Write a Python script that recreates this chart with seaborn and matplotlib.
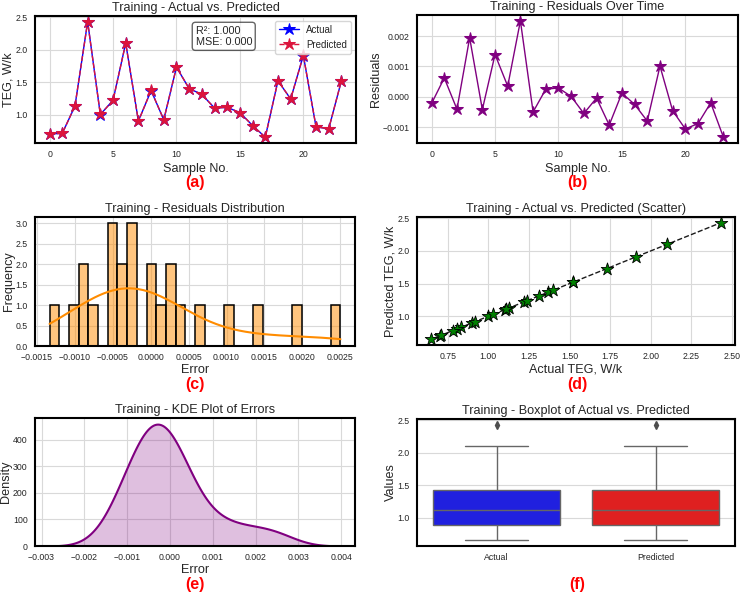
import numpy as np
import pandas as pd
import matplotlib
matplotlib.use("Agg")
import matplotlib.pyplot as plt
import seaborn as sns

# ---------------- data ----------------
sample_no = list(range(24))
actual = [0.70, 0.71, 1.13, 2.43, 1.00, 1.22, 2.10, 0.90, 1.37, 0.92, 1.73, 1.40,
          1.31, 1.10, 1.11, 1.03, 0.83, 0.65, 1.52, 1.24, 1.91, 0.81, 0.78, 1.52]
predicted = [0.70022, 0.70938, 1.13041, 2.42806, 1.00042, 1.21861, 2.09965, 0.89750,
             1.37050, 0.91975, 1.72971, 1.39999, 1.31055, 1.10004, 1.11093, 1.02988,
             0.83025, 0.65080, 1.51899, 1.24046, 1.91106, 0.81088, 0.78020, 1.52133]
box_labels = ["Actual", "Predicted"]
panel_tags = ["(a)", "(b)", "(c)", "(d)", "(e)", "(f)"]

act = np.array(actual)
pred = np.array(predicted)
residuals = np.round(act - pred, 8)
mse = np.mean((act - pred) ** 2)
r2 = 1 - np.sum((act - pred) ** 2) / np.sum((act - act.mean()) ** 2)

# ---------------- style ----------------
sns.set_theme(style="whitegrid")
plt.rcParams["font.family"] = ["Liberation Sans", "DejaVu Sans"]
plt.rcParams.update({
    "axes.edgecolor": "black",
    "axes.linewidth": 1.5,
    "grid.color": "0.85",
    "grid.linewidth": 0.8,
    "xtick.labelsize": 6.3,
    "ytick.labelsize": 6.3,
    "xtick.major.size": 0,
    "ytick.major.size": 0,
    "xtick.major.pad": 5.3,
    "ytick.major.pad": 5.3,
    "axes.labelsize": 9.1,
    "axes.titlesize": 9.1,
    "axes.labelpad": 2.5,
    "axes.titlepad": 3.5,
})

W, H = 743, 592
fig = plt.figure(figsize=(W / 100, H / 100), dpi=100)


def px_axes(x0, y0, x1, y1):
    return fig.add_axes([x0 / W, 1 - y1 / H, (x1 - x0) / W, (y1 - y0) / H])


axA = px_axes(35, 16, 356, 143)
axB = px_axes(417, 15, 738, 143)
axC = px_axes(35, 217, 355, 346)
axD = px_axes(417, 217, 735, 345)
axE = px_axes(35, 418, 355, 546)
axF = px_axes(417, 419, 735, 546)

# (a) Actual vs Predicted
sns.lineplot(x=sample_no, y=actual, ax=axA, color="blue", marker="*", markersize=9,
             markeredgecolor="blue", linewidth=1.0, label="Actual")
sns.lineplot(x=sample_no, y=predicted, ax=axA, color="crimson", marker="*", markersize=9,
             markeredgecolor="crimson", linewidth=1.0, linestyle="--", label="Predicted")
axA.set_title("Training - Actual vs. Predicted")
axA.set_xlabel("Sample No.")
axA.set_ylabel("TEG, W/k", labelpad=0.5)
axA.legend(loc="upper right", fontsize=7, frameon=True)
axA.text(0.5, 0.925, f"R²: {r2:.3f}\nMSE: {mse:.3f}", transform=axA.transAxes,
         va="top", ha="left", fontsize=7.8,
         bbox=dict(boxstyle="round", facecolor="white", edgecolor="black", alpha=0.6))

# (b) Residuals over time
sns.lineplot(x=sample_no, y=residuals, ax=axB, color="purple", marker="*", markersize=9,
             markeredgecolor="purple", linewidth=1.0)
axB.set_title("Training - Residuals Over Time")
axB.set_xlabel("Sample No.")
axB.set_ylabel("Residuals", labelpad=0.5)

# (c) Residual distribution
sns.histplot(residuals, bins=30, kde=True, ax=axC, color="darkorange", alpha=0.5,
             edgecolor="black", linewidth=1.1)
axC.set_title("Training - Residuals Distribution")
axC.set_xlabel("Error", labelpad=1.2)
axC.set_ylabel("Frequency", labelpad=0.5)

# (d) Scatter
sns.scatterplot(x=actual, y=predicted, ax=axD, color="green", marker="*", s=90,
                edgecolor="black", linewidth=0.6, zorder=3)
lims = [min(actual), max(actual)]
axD.plot(lims, lims, "k--", linewidth=1.0, zorder=2)
axD.set_title("Training - Actual vs. Predicted (Scatter)")
axD.set_xlabel("Actual TEG, W/k", labelpad=1.2)
axD.set_ylabel("Predicted TEG, W/k", labelpad=0.5)

# (e) KDE of errors
sns.kdeplot(residuals, ax=axE, fill=True, color="purple", linewidth=1.5)
axE.set_title("Training - KDE Plot of Errors")
axE.set_xlabel("Error", labelpad=1.5)
axE.set_ylabel("Density", labelpad=0.5)

# (f) Boxplot
df_box = pd.DataFrame({"Type": [box_labels[0]] * len(actual) + [box_labels[1]] * len(predicted),
                       "Value": actual + predicted})
sns.boxplot(data=df_box, x="Type", y="Value", hue="Type", palette=["blue", "red"],
            legend=False, ax=axF, linecolor="0.4", linewidth=1.0,
            flierprops=dict(marker="d", markersize=4, markerfacecolor="0.3",
                            markeredgecolor="0.3"))
axF.set_title("Training - Boxplot of Actual vs. Predicted")
axF.set_xlabel("")
axF.set_ylabel("Values", labelpad=0.5)

for ax in [axA, axB, axC, axD, axE, axF]:
    for s in ax.spines.values():
        s.set_edgecolor("black")
        s.set_linewidth(1.5)

tag_pos = [(195, 182), (577, 182), (195, 384), (577, 384), (195, 584), (577, 584)]
for tag, (x, y) in zip(panel_tags, tag_pos):
    fig.text(x / W, 1 - y / H, tag, color="red", fontweight="bold", fontsize=11.5,
             ha="center", va="center")

fig.savefig("out.png", dpi=100)
